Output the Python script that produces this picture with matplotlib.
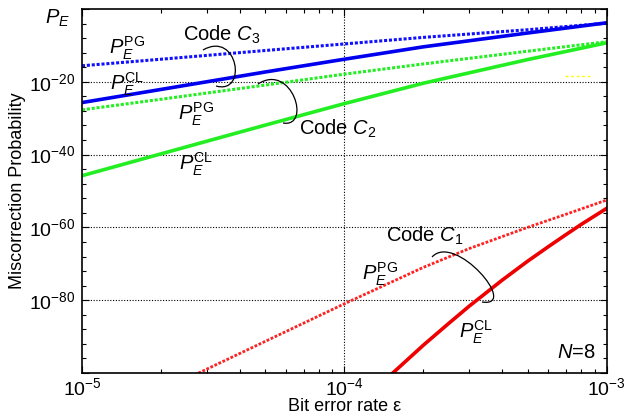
import numpy as np
import matplotlib
matplotlib.use('Agg')
import matplotlib.pyplot as plt
from matplotlib.path import Path
from matplotlib.patches import PathPatch
from matplotlib.ticker import FixedLocator, NullFormatter, FuncFormatter

plt.rcParams['font.family'] = 'Liberation Sans'
plt.rcParams['mathtext.fontset'] = 'custom'
plt.rcParams['mathtext.rm'] = 'Liberation Sans'
plt.rcParams['mathtext.it'] = 'Liberation Sans:italic'

# bit error rate grid, log10 of miscorrection probability
eps = [1e-5, 2e-5, 5e-5, 1e-4, 2e-4, 5e-4, 1e-3]
c3_pg = [-15.6, -13.8, -11.4, -9.6, -7.8, -5.7, -3.9]
c3_cl = [-25.7, -22.1, -17.3, -13.8, -10.4, -6.6, -3.8]
c2_pg = [-27.7, -24.8, -20.9, -17.9, -15.1, -11.6, -9.0]
c2_cl = [-45.8, -39.8, -31.9, -26.0, -20.4, -13.9, -9.3]
eps_c1_pg = [2.5e-5, 5e-5, 1e-4, 2e-4, 3e-4, 5e-4, 7e-4, 1e-3]
c1_pg = [-101.6, -91.3, -81.0, -71.0, -65.8, -60.0, -56.4, -52.5]
eps_c1_cl = [1.5e-4, 2e-4, 2.5e-4, 3e-4, 4e-4, 5e-4, 6e-4, 7e-4, 8e-4, 1e-3]
c1_cl = [-100.6, -92.4, -86.4, -81.6, -74.5, -69.3, -65.3, -62.0, -59.2, -54.8]

W, H = 632, 417
fig = plt.figure(figsize=(W/100, H/100), dpi=100)
ax = fig.add_axes([82/W, 1-373/H, 524.5/W, 364/H])

def px(x, y):
    # pixel position -> figure fraction
    return x/W, 1-y/H

dots = (0, (1, 0.6))
ax.plot(eps, 10.0**np.array(c3_pg), color='#1010ff', lw=2.2, ls=dots)
ax.plot(eps, 10.0**np.array(c3_cl), color='#0000ee', lw=2.6)
ax.plot(eps, 10.0**np.array(c2_pg), color='#22ee22', lw=2.2, ls=dots)
ax.plot(eps, 10.0**np.array(c2_cl), color='#22ee22', lw=2.6)
ax.plot(eps_c1_pg, 10.0**np.array(c1_pg), color='#ff2020', lw=2.0, ls=dots)
ax.plot(eps_c1_cl, 10.0**np.array(c1_cl), color='#ee0000', lw=2.6)

ax.set_xscale('log')
ax.set_yscale('log')
ax.set_xlim(1e-5, 1e-3)
ax.set_ylim(1e-100, 1e0)

ax.yaxis.set_major_locator(FixedLocator([10.0**k for k in range(-100, 1, 20)]))
ax.yaxis.set_minor_locator(FixedLocator([10.0**k for k in range(-100, 1, 4)]))
ax.yaxis.set_minor_formatter(NullFormatter())
def ylab(v, pos):
    k = int(round(np.log10(v)))
    if k == 0 or k == -100:
        return ''
    return r'$\mathregular{10^{%d}}$' % k
ax.yaxis.set_major_formatter(FuncFormatter(ylab))
ax.xaxis.set_major_formatter(FuncFormatter(lambda v, p: r'$\mathregular{10^{%d}}$' % int(round(np.log10(v)))))
ax.xaxis.set_minor_formatter(NullFormatter())

ax.tick_params(which='both', direction='in', top=True, right=True, labelsize=14, width=0.8)
ax.tick_params(which='major', length=5, pad=5)
ax.tick_params(axis='x', which='major', pad=3)
ax.tick_params(which='minor', length=3)
for s in ax.spines.values():
    s.set_linewidth(1.2)

# dotted grid only at labelled decades
for k in [-20, -40, -60, -80]:
    ax.axhline(10.0**k, color='black', lw=0.8, ls=(0, (1, 1.5)), zorder=0)
ax.axvline(1e-4, color='black', lw=0.8, ls=(0, (1, 1.5)), zorder=0)

ax.set_xlabel('Bit error rate \u03b5', fontsize=13, labelpad=-1)
ax.set_ylabel('Miscorrection Probability', fontsize=13, labelpad=2)

# annotations
fs = 14.5
labels = [
    ((57, 18), r'$P_E$'),
    ((127, 48), r'$P_E^{\mathrm{PG}}$'),
    ((127, 84), r'$P_E^{\mathrm{CL}}$'),
    ((222, 35), r'Code $C_3$'),
    ((196, 114), r'$P_E^{\mathrm{PG}}$'),
    ((338, 129), r'Code $C_2$'),
    ((196, 164), r'$P_E^{\mathrm{CL}}$'),
    ((425, 236), r'Code $C_1$'),
    ((380, 274), r'$P_E^{\mathrm{PG}}$'),
    ((476, 332), r'$P_E^{\mathrm{CL}}$'),
    ((576, 352), r'$N$=8'),
]
for (x, y), s in labels:
    fx, fy = px(x, y)
    fig.text(fx, fy, s, fontsize=fs, ha='center', va='center', color='black')

# curly brackets tying the code labels to their pair of curves
brackets = [
    [(203, 50), (238, 30), (248, 95), (216, 86)],
    [(258, 84), (292, 62), (312, 128), (283, 123)],
    [(432, 257), (455, 232), (520, 308), (482, 302)],
]
for pts in brackets:
    verts = [px(x, y) for x, y in pts]
    path = Path(verts, [Path.MOVETO, Path.CURVE4, Path.CURVE4, Path.CURVE4])
    fig.patches.append(PathPatch(path, transform=fig.transFigure, fill=False,
                                 lw=0.9, edgecolor='black'))

# stray yellow dash in the original
fig.add_artist(plt.Line2D([565/W, 593/W], [1-76/H, 1-76/H], color='yellow',
                          lw=1.0, ls=(0, (2, 2)), transform=fig.transFigure))

fig.savefig('out.png', dpi=100)
